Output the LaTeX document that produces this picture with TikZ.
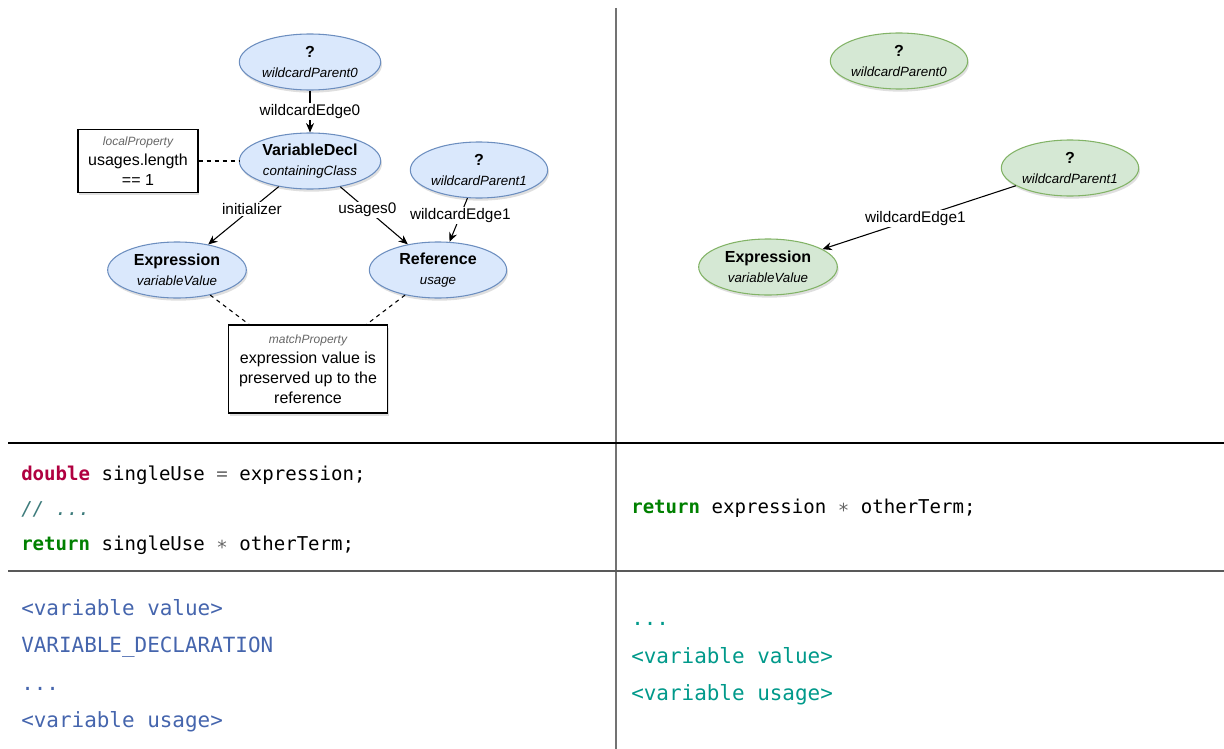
\documentclass[tikz,border=0pt]{standalone}
\usepackage{fontspec}
\setmainfont{Liberation Sans}
\newfontfamily\codefont{DejaVu Sans Mono}
\usepackage{xcolor}
\usetikzlibrary{arrows.meta, positioning, shapes.geometric, shadows}

\definecolor{bluefill}{HTML}{DAE8FC}
\definecolor{bluedraw}{HTML}{6C8EBF}
\definecolor{greenfill}{HTML}{D5E8D4}
\definecolor{greendraw}{HTML}{82B366}
\definecolor{kwtype}{HTML}{B00040}
\definecolor{kwgreen}{HTML}{008000}
\definecolor{cmtteal}{HTML}{3D7B7B}
\definecolor{opgray}{HTML}{666666}
\definecolor{tokblue}{HTML}{4565AD}
\definecolor{tokteal}{HTML}{00998A}

\begin{document}
\begin{tikzpicture}[
    x=0.75pt, y=-0.75pt,
    pattern/.style={ellipse, draw=bluedraw, fill=bluefill, line width=0.8pt, minimum width=106pt, minimum height=42pt, inner sep=0pt, align=center, font=\fontsize{10}{15}\selectfont, drop shadow={shadow xshift=1pt, shadow yshift=-2pt, opacity=0.25}},
    result/.style={pattern, draw=greendraw, fill=greenfill},
    propbox/.style={rectangle, draw=black, line width=0.8pt, fill=white, align=center, inner sep=2pt, font=\fontsize{12}{15}\selectfont, drop shadow={shadow xshift=1pt, shadow yshift=-2pt, opacity=0.25}},
    edge/.style={draw=black, line width=0.8pt, -{Stealth[length=7pt, width=6pt]}},
    elabel/.style={fill=white, inner sep=1pt, font=\fontsize{11.5}{13}\selectfont},
    link/.style={draw=black, line width=0.8pt, dash pattern=on 3pt off 3pt},
    code/.style={anchor=base west, inner sep=0pt, font=\codefont\fontsize{14.3}{17}\selectfont},
    tokens/.style={code, font=\codefont\fontsize{15.7}{19}\selectfont},
    rule/.style={line width=0.9pt}
]
\useasboundingbox (0,0) rectangle (1224,749);

% frame
\draw[rule, black!55, line width=1.5pt] (616,8) -- (616,749);
\draw[rule, black] (8,443) -- (1224,443);
\draw[rule, black!65] (8,571) -- (1224,571);

% left pattern
\node[pattern] (wp0) at (310,62) {{\fontsize{12}{15}\selectfont\bfseries ?}\\\itshape wildcardParent0};
\node[pattern] (vdecl) at (310,161) {{\fontsize{12}{15}\selectfont\bfseries VariableDecl}\\\itshape containingClass};
\node[pattern, minimum width=103pt] (wp1) at (479,170) {{\fontsize{12}{15}\selectfont\bfseries ?}\\\itshape wildcardParent1};
\node[pattern, minimum width=104pt] (expr) at (177,270) {{\fontsize{12}{15}\selectfont\bfseries Expression}\\\itshape variableValue};
\node[pattern, minimum width=103pt] (ref) at (438,270) {{\fontsize{12}{15}\selectfont\bfseries Reference}\\\itshape usage};

\node[propbox, minimum width=90pt, minimum height=47pt] (local) at (138,161)
  {{\fontsize{9}{11}\selectfont\itshape\color{opgray}localProperty}\\usages.length\\== 1};
\node[propbox, minimum width=119pt, minimum height=66pt] (match) at (308,369)
  {{\fontsize{9}{11}\selectfont\itshape\color{opgray}matchProperty}\\expression value is\\preserved up to the\\reference};

\draw[edge] (wp0) -- node[elabel] {wildcardEdge0} (vdecl);
\draw[edge] (vdecl) -- node[elabel, pos=0.38] {initializer} (expr);
\draw[edge] (vdecl) -- node[elabel, pos=0.4] {usages0} (ref);
\draw[edge] (wp1) -- node[elabel, pos=0.4] {wildcardEdge1} (ref);

\draw[link] (local) -- (vdecl);
\draw[link] (expr) -- (match);
\draw[link] (ref) -- (match);

% right result
\node[result, minimum width=103pt] (rwp0) at (899,61) {{\fontsize{12}{15}\selectfont\bfseries ?}\\\itshape wildcardParent0};
\node[result, minimum width=103pt] (rwp1) at (1070,168) {{\fontsize{12}{15}\selectfont\bfseries ?}\\\itshape wildcardParent1};
\node[result, minimum width=104pt] (rexpr) at (768,267) {{\fontsize{12}{15}\selectfont\bfseries Expression}\\\itshape variableValue};

\draw[edge] (rwp1) -- node[elabel, pos=0.52] {wildcardEdge1} (rexpr);

% code before / after
\node[code] (before1) at (21,480) {{\bfseries\color{kwtype}double} singleUse {\color{opgray}=} expression;};
\node[code] (before2) at (21,515) {\color{cmtteal}\itshape // ...};
\node[code] (before3) at (21,550) {{\bfseries\color{kwgreen}return} singleUse {\color{opgray}∗} otherTerm;};
\node[code] (after1) at (631,513) {{\bfseries\color{kwgreen}return} expression {\color{opgray}∗} otherTerm;};

% token sequences
\node[tokens, text=tokblue] (tokL1) at (21,615) {<variable value>};
\node[tokens, text=tokblue] (tokL2) at (21,652) {VARIABLE\_DECLARATION};
\node[tokens, text=tokblue] (tokL3) at (21,690) {...};
\node[tokens, text=tokblue] (tokL4) at (21,727) {<variable usage>};
\node[tokens, text=tokteal] (tokR1) at (631,625) {...};
\node[tokens, text=tokteal] (tokR2) at (631,663) {<variable value>};
\node[tokens, text=tokteal] (tokR3) at (631,700) {<variable usage>};
\end{tikzpicture}
\end{document}
